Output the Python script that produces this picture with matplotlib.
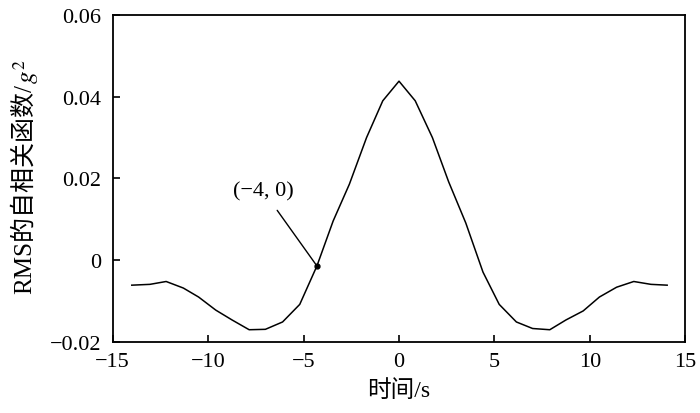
import matplotlib
matplotlib.use("Agg")
import matplotlib.pyplot as plt
from matplotlib.ticker import FixedLocator, FixedFormatter

plt.rcParams['font.family'] = ['Liberation Serif', 'Noto Sans CJK SC']
plt.rcParams['mathtext.fontset'] = 'stix'
plt.rcParams['axes.unicode_minus'] = True

# values
t = [-14.0, -13.05, -12.2, -11.3, -10.5, -9.6, -8.75, -7.85, -7.0, -6.1, -5.2,
     -4.3, -3.45, -2.6, -1.7, -0.85, 0.0, 0.85, 1.75, 2.6, 3.5, 4.4, 5.25,
     6.15, 7.0, 7.9, 8.75, 9.65, 10.5, 11.4, 12.3, 13.2, 14.05]
rms_acf = [-0.0061, -0.0059, -0.0052, -0.0068, -0.0090, -0.0122, -0.0146,
           -0.0170, -0.0169, -0.0151, -0.0108, -0.0014, 0.0096, 0.0186,
           0.0300, 0.0390, 0.0438, 0.0390, 0.0300, 0.0192, 0.0091, -0.0029,
           -0.0108, -0.0151, -0.0167, -0.0170, -0.0146, -0.0124, -0.0090,
           -0.0066, -0.0052, -0.0059, -0.0061]
mark_x, mark_y = -4.3, -0.0014
mark_text = '(−4, 0)'

xticks = [-15, -10, -5, 0, 5, 10, 15]
xlabels = ['−15', '−10', '−5', '0', '5', '10', '15']
yticks = [-0.02, 0, 0.02, 0.04, 0.06]
ylabels = ['−0.02', '0', '0.02', '0.04', '0.06']

fig = plt.figure(figsize=(7, 4.14), dpi=100)
ax = fig.add_axes([0.161, 0.1715, 0.818, 0.79])

ax.plot(t, rms_acf, color='black', lw=1.1)
ax.plot([mark_x], [mark_y], 'o', color='black', ms=3.5)
ax.annotate(mark_text, xy=(mark_x, mark_y), xytext=(-7.1, 0.0169),
            ha='center', va='center', fontsize=16,
            arrowprops=dict(arrowstyle='-', color='black', lw=1.0,
                            shrinkA=6, shrinkB=0))

ax.set_xlim(-15, 15)
ax.set_ylim(-0.02, 0.06)
ax.xaxis.set_major_locator(FixedLocator(xticks))
ax.xaxis.set_major_formatter(FixedFormatter(xlabels))
ax.yaxis.set_major_locator(FixedLocator(yticks))
ax.yaxis.set_major_formatter(FixedFormatter(ylabels))
ax.tick_params(direction='in', length=5, width=1.2, labelsize=16,
               top=False, right=False)
ax.tick_params(axis='y', pad=8)
ax.tick_params(axis='x', pad=7)
for s in ax.spines.values():
    s.set_linewidth(1.3)

ax.set_xlabel('时间/s', fontsize=17, labelpad=6)

# y label: CJK part and italic g^2 drawn as two pieces so the CJK glyphs survive
yl_x = 0.034
ylab = fig.text(yl_x, 0.2, 'RMS的自相关函数/', rotation=90, fontsize=18,
                ha='center', va='bottom')
gsq = fig.text(yl_x + 0.003, 0.5, '$g^2$', rotation=90, fontsize=18,
               ha='center', va='bottom')
fig.canvas.draw()
inv = fig.transFigure.inverted()
b1 = ylab.get_window_extent().transformed(inv)
b2 = gsq.get_window_extent().transformed(inv)
total = b1.height + b2.height
y0 = (414 - 177) / 414 - total / 2
ylab.set_y(y0)
gsq.set_y(y0 + b1.height)

fig.savefig('out.png', dpi=100)
